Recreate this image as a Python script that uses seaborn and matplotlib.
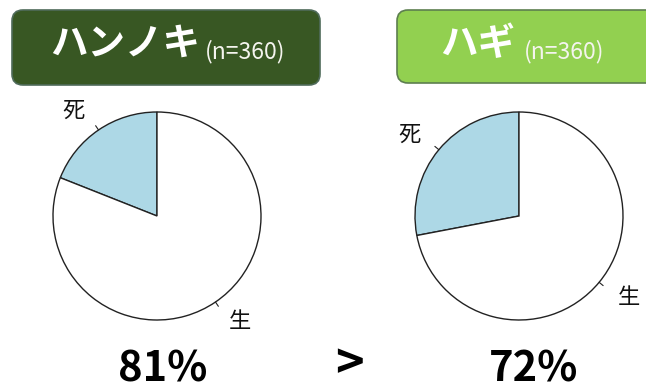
import matplotlib
matplotlib.use("Agg")
import matplotlib.pyplot as plt
from matplotlib.patches import FancyBboxPatch
import numpy as np
import seaborn as sns

# ---- data ----
species = ["ハンノキ", "ハギ"]
sample_n = [360, 360]
survival_pct = [81, 72]
dead_pct = [19, 28]
slice_labels = ["死", "生"]
comparison = ">"

sns.set_theme(style="white")
plt.rcParams["font.family"] = ["Noto Sans CJK JP", "DejaVu Sans"]

W, H = 646, 390
fig = plt.figure(figsize=(W / 100, H / 100), dpi=100)
fig.patch.set_facecolor("white")

# overlay axes in pixel coordinates
ov = fig.add_axes([0, 0, 1, 1])
ov.set_xlim(0, W)
ov.set_ylim(H, 0)
ov.axis("off")

box_colors = ["#385723", "#92d050"]
box_edges = ["#4f6b5a", "#5d7f4f"]
box_x = [12, 397]
box_w = [308, 270]
box_y = [10, 10]
box_h = [75, 73]
title_x = [50, 440]
sub_x = [205, 524]

for i in range(2):
    ov.add_patch(FancyBboxPatch((box_x[i], box_y[i]), box_w[i], box_h[i],
                                boxstyle="round,pad=0,rounding_size=11",
                                facecolor=box_colors[i], edgecolor=box_edges[i],
                                linewidth=1.2))
    ov.text(title_x[i], 43, species[i], color="white", fontsize=27,
            fontweight="bold", ha="left", va="center")
    ov.text(sub_x[i], 52, f"(n={sample_n[i]})", color="#f4f4ee", fontsize=16.5,
            ha="left", va="center")

# pies
centers = [(157, 216), (519, 216)]
R = 104
for i in range(2):
    cx, cy = centers[i]
    ax = fig.add_axes([(cx - R) / W, (H - cy - R) / H, 2 * R / W, 2 * R / H])
    wedges, texts = ax.pie([dead_pct[i], survival_pct[i]], labels=slice_labels,
                           startangle=90, counterclock=True,
                           colors=["#add8e6", "white"], labeldistance=1.23,
                           wedgeprops=dict(edgecolor="#222222", linewidth=1.0),
                           textprops=dict(fontsize=16, color="#111111"))
    for w in wedges:
        mid = np.deg2rad((w.theta1 + w.theta2) / 2)
        ax.plot([np.cos(mid), 1.05 * np.cos(mid)], [np.sin(mid), 1.05 * np.sin(mid)],
                color="#222222", lw=0.8, clip_on=False)
    ax.set_xlim(-1, 1)
    ax.set_ylim(-1, 1)
    ax.axis("off")

# percentages
pct_x = [163, 534]
for i in range(2):
    ov.text(pct_x[i], 370, f"{survival_pct[i]}%", fontsize=30, fontweight="bold",
            ha="center", va="center", color="black")
ov.text(349, 365, comparison, fontsize=35, fontweight="bold",
        ha="center", va="center", color="black")

fig.savefig("out.png", dpi=100)
